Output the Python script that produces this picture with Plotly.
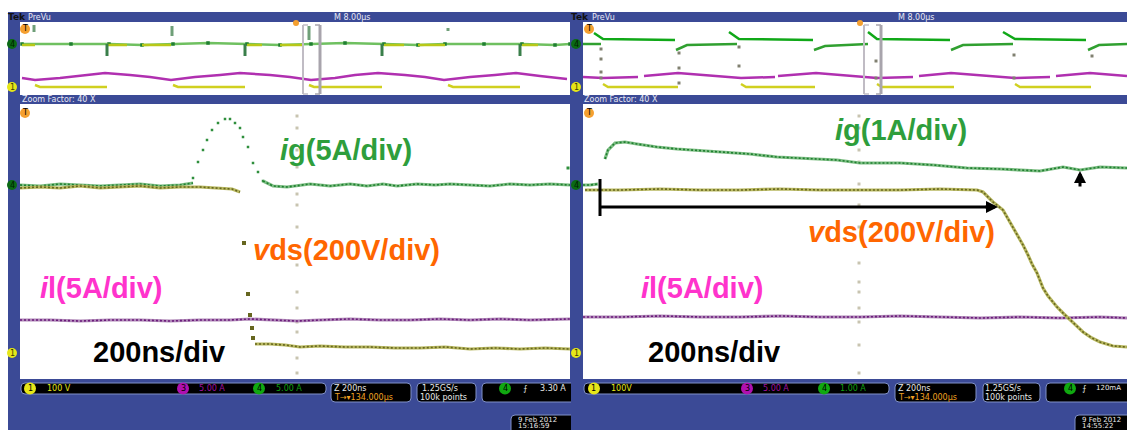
import plotly.graph_objects as go

W, H = 1127, 430
BLUE = "#3b4a96"

# ---------- left zoom window ----------
lz_ig_x = [20,40,60,80,100,120,140,160,180,193]
lz_ig_y = [185,186,184,185,186,185,184,186,185,183]
lz_ig_rise_x = [193,198,203,207,212,218,225,230,235,240,243,248,253,258,263]
lz_ig_rise_y = [178,162,150,140,130,123,119,119,123,128,137,147,163,172,181]
lz_ig_tail_x = [263,273,287,297,310,330,350,367,383,397,417,435,450,470,490,510,530,550,570]
lz_ig_tail_y = [181,186,187,186,184,186,184,186,184,186,184,185,184,185,186,184,185,184,185]
lz_vd_x = [20,40,60,80,100,120,140,160,180,200,220,232,240]
lz_vd_y = [188,187,188,186,188,187,186,188,187,187,188,189,192]
lz_vd_drop_x = [244,248,250,252,253]
lz_vd_drop_y = [243,294,315,328,338]
lz_vd_tail_x = [255,270,285,300,320,345,370,395,420,445,470,495,520,545,570]
lz_vd_tail_y = [344,344,345,347,346,347,347,348,348,347,349,348,349,348,349]
lz_il_x = [20,50,80,110,140,170,200,230,250,270,297,320,350,380,410,440,470,500,530,570]
lz_il_y = [320,320,321,320,320,321,320,320,319,320,321,320,319,320,320,319,320,319,320,319]
lz_stray_x = [568]
lz_stray_y = [168]
lz_cursor_x = [297]*15
lz_cursor_y = [116,128,150,167,194,205,227,252,265,292,308,322,332,358,373]

# ---------- right zoom window ----------
rz_ig0_x = [583,590,598]
rz_ig0_y = [185,185,184]
rz_ig_x = [605,608,615,625,637,657,677,703,730,750,777,803,837,860,900,933,967,1000,1040,1063,1080,1100,1127]
rz_ig_y = [159,150,143,142,144,147,149,151,153,154,157,158,160,163,163,165,168,169,171,167,170,167,168]
rz_vd_x = [585,620,660,700,740,780,820,860,900,940,977,983,993,1003,1013,1023,1028,1032,1037,1043,1048,1057,1064,1070,1083,1092,1100,1113,1127]
rz_vd_y = [190,190,189,190,190,189,190,190,190,189,190,192,202,210,227,245,255,264,273,288,296,307,314,320,332,338,342,346,347]
rz_il_x = [583,620,660,700,740,780,820,860,900,940,980,1020,1060,1100,1127]
rz_il_y = [317,317,316,317,317,316,317,317,316,317,318,317,318,317,318]
rz_cursor_x = [859]*14
rz_cursor_y = [116,128,150,162,184,205,227,263,282,292,308,322,345,373]

# ---------- left overview ----------
lo_g_x = [22,71,109,142,173,208,247,280,311,345,384,418,445,484,522,555,570]
lo_g_y = [44,44,44,45,44,43,44,45,44,43,44,45,44,44,44,45,44]
lo_spike_x = [107,245,382,520]
lo_spike_top = [44,44,44,44]
lo_spike_bot = [56,56,56,56]
lo_top_x = [34,172,309,448]
lo_top_a = [25,26,26,28]
lo_top_b = [32,36,40,31]
lo_ylw_on_start = [22,107,142,247,280,384,418,522]
lo_ylw_on_end = [35,127,171,262,303,404,445,538]
lo_p_x = [22,35,60,80,105,130,150,171,195,220,240,270,290,311,335,355,378,405,425,444,470,495,516,540,567]
lo_p_y = [78,80,78,76,73,75,77,80,77,75,73,75,77,80,78,75,73,75,77,80,77,75,73,76,79]
lo_low_start = [35,173,309,448]
lo_low_end = [107,245,382,520]

# ---------- right overview ----------
ro_hi_x = [[594,603,675],[729,739,813],[868,877,950],[1003,1015,1086]]
ro_hi_y = [[33,39,40],[32,39,40],[32,39,40],[32,39,40]]
ro_lo_x = [[583,601],[676,687,737],[814,825,868],[951,963,1013],[1088,1099,1127]]
ro_lo_y = [[44,44],[50,45,44],[50,46,44],[50,45,44],[50,45,44]]
ro_p_x = [[583,603,638],[644,678,741,775],[778,816,877,913],[919,951,1015,1050],[1056,1090,1127]]
ro_p_y = [[77,78,77],[76,73,78,77],[76,73,78,77],[76,73,78,77],[76,73,76]]
ro_low_x = [[603,608,678],[741,746,815],[877,882,954],[1015,1020,1091]]
ro_low_y = [[84,87,87],[84,87,87],[84,87,87],[84,87,87]]
ro_dot_x = [601,601,601,601,679,679,679,739,739,876,876,1014,1014,1092]
ro_dot_y = [49,59,72,78,53,68,83,47,66,61,78,55,78,56]

# ---------- texts ----------
big_labels = [
    ("<i>i</i>g(5A/div)", 280, 150, "#2e9e3c"),
    ("<i>v</i>ds(200V/div)", 253, 250, "#ff6600"),
    ("<i>i</i>l(5A/div)", 40, 288, "#ff33cc"),
    ("200ns/div", 93, 352, "#000000"),
    ("<i>i</i>g(1A/div)", 835, 130, "#2e9e3c"),
    ("<i>v</i>ds(200V/div)", 808, 232, "#ff6600"),
    ("<i>i</i>l(5A/div)", 641, 288, "#ff33cc"),
    ("200ns/div", 648, 352, "#000000"),
]
tek_labels = [("Tek", 8, 17), ("Tek", 571, 17)]
small_labels = [
    ("PreVu", 28, 17, "#e8e8f4"), ("M 8.00µs", 334, 17, "#e8e8f4"),
    ("Zoom Factor: 40 X", 22, 100, "#e8e8f4"),
    ("PreVu", 592, 17, "#e8e8f4"), ("M 8.00µs", 898, 17, "#e8e8f4"),
    ("Zoom Factor: 40 X", 584, 100, "#e8e8f4"),
    ("100 V", 47, 388, "#e6e619"), ("5.00 A", 199, 388, "#a010a0"), ("5.00 A", 276, 388, "#10a010"),
    ("Z 200ns", 334, 388, "#e8e8e8"), ("T→▾134.000µs", 334, 397, "#f0a020"),
    ("1.25GS/s", 422, 388, "#e8e8e8"), ("100k points", 420, 397, "#e8e8e8"),
    ("⨍", 523, 388, "#e8e8e8"), ("3.30 A", 540, 388, "#e8e8e8"),
    ("100V", 611, 388, "#e6e619"), ("5.00 A", 763, 388, "#a010a0"), ("1.00 A", 840, 388, "#10a010"),
    ("Z 200ns", 898, 388, "#e8e8e8"), ("T→▾134.000µs", 898, 397, "#f0a020"),
    ("1.25GS/s", 985, 388, "#e8e8e8"), ("100k points", 985, 397, "#e8e8e8"),
    ("⨍", 1082, 388, "#e8e8e8"),
]
tiny_labels = [
    ("120mA", 1096, 388, "#e8e8e8"),
    ("9 Feb 2012", 518, 420, "#e8e8e8"), ("15:16:59", 518, 426, "#e8e8e8"),
    ("9 Feb 2012", 1082, 420, "#e8e8e8"), ("14:55:22", 1082, 426, "#e8e8e8"),
]

fig = go.Figure()
PX = lambda x: x / W
PY = lambda y: 1 - y / H


def axes(n, x0, x1, y0, y1):
    common = dict(showgrid=False, zeroline=False, showticklabels=False, ticks="", showline=False, fixedrange=True)
    fig.layout["xaxis" + n] = dict(domain=[PX(x0), PX(x1)], range=[x0, x1], anchor="y" + n, **common)
    fig.layout["yaxis" + n] = dict(domain=[PY(y1), PY(y0)], range=[y1, y0], anchor="x" + n, **common)


axes("", 20, 570, 104, 379)
axes("2", 583, 1127, 104, 379)
axes("3", 20, 570, 22, 95)
axes("4", 583, 1127, 22, 95)


def trace(n, x, y, halo, core, hw=3.2, cw=1.6, dash="2px,2px"):
    ref = dict(xaxis="x" + n, yaxis="y" + n, hoverinfo="skip", showlegend=False, mode="lines")
    fig.add_trace(go.Scatter(x=x, y=y, line=dict(color=halo, width=hw), **ref))
    fig.add_trace(go.Scatter(x=x, y=y, line=dict(color=core, width=cw, dash=dash), **ref))


def dots(n, x, y, color, size=3):
    fig.add_trace(go.Scatter(x=x, y=y, xaxis="x" + n, yaxis="y" + n, mode="markers", hoverinfo="skip",
                             showlegend=False, marker=dict(symbol="square", color=color, size=size, line=dict(width=0))))


GH, GC = "#7fbf85", "#1f7f30"
OH, OC = "#b8b860", "#66661f"
PH, PC = "#b088b8", "#6a1a7a"

# cursor dots first
dots("", lz_cursor_x, lz_cursor_y, "#c8c4b0", 3)
dots("2", rz_cursor_x, rz_cursor_y, "#c8c4b0", 3)

# left zoom
trace("", lz_il_x, lz_il_y, PH, PC)
trace("", lz_ig_x, lz_ig_y, GH, GC)
dots("", lz_ig_rise_x, lz_ig_rise_y, "#2f8f3c", 2.5)
trace("", lz_ig_tail_x, lz_ig_tail_y, GH, GC)
trace("", lz_vd_x, lz_vd_y, OH, OC)
dots("", lz_vd_drop_x, lz_vd_drop_y, "#66661f", 4)
trace("", lz_vd_tail_x, lz_vd_tail_y, OH, OC)
dots("", lz_stray_x, lz_stray_y, "#2f8f3c", 3)

# right zoom
trace("2", rz_il_x, rz_il_y, PH, PC)
trace("2", rz_ig0_x, rz_ig0_y, GH, GC)
trace("2", rz_ig_x, rz_ig_y, GH, GC)
trace("2", rz_vd_x, rz_vd_y, OH, OC)

# left overview
fig.add_trace(go.Scatter(x=lo_g_x, y=lo_g_y, xaxis="x3", yaxis="y3", mode="lines+markers", hoverinfo="skip",
                         showlegend=False, line=dict(color="#6fc060", width=2.5),
                         marker=dict(symbol="square", size=3.5, color="#1f7f30")))
for s, e in zip(lo_ylw_on_start, lo_ylw_on_end):
    fig.add_trace(go.Scatter(x=[s, e], y=[45, 45], xaxis="x3", yaxis="y3", mode="lines", hoverinfo="skip",
                             showlegend=False, line=dict(color="#b8c818", width=2.5)))
for x, a, b in zip(lo_spike_x, lo_spike_top, lo_spike_bot):
    fig.add_trace(go.Scatter(x=[x, x], y=[a, b], xaxis="x3", yaxis="y3", mode="lines", hoverinfo="skip",
                             showlegend=False, line=dict(color="#3a7f4a", width=3)))
for x, a, b in zip(lo_top_x, lo_top_a, lo_top_b):
    fig.add_trace(go.Scatter(x=[x, x], y=[a, b], xaxis="x3", yaxis="y3", mode="lines", hoverinfo="skip",
                             showlegend=False, line=dict(color="#6f9f78", width=3)))
fig.add_trace(go.Scatter(x=lo_p_x, y=lo_p_y, xaxis="x3", yaxis="y3", mode="lines", hoverinfo="skip",
                         showlegend=False, line=dict(color="#b030b0", width=2.5)))
for s, e in zip(lo_low_start, lo_low_end):
    fig.add_trace(go.Scatter(x=[s, s + 5, e], y=[85, 87, 87], xaxis="x3", yaxis="y3", mode="lines", hoverinfo="skip",
                             showlegend=False, line=dict(color="#d0d020", width=2.5)))

# right overview
for x, y in zip(ro_lo_x, ro_lo_y):
    fig.add_trace(go.Scatter(x=x, y=y, xaxis="x4", yaxis="y4", mode="lines", hoverinfo="skip",
                             showlegend=False, line=dict(color="#30a030", width=2.5)))
for x, y in zip(ro_hi_x, ro_hi_y):
    fig.add_trace(go.Scatter(x=x, y=y, xaxis="x4", yaxis="y4", mode="lines", hoverinfo="skip",
                             showlegend=False, line=dict(color="#10a818", width=2.5)))
for x, y in zip(ro_p_x, ro_p_y):
    fig.add_trace(go.Scatter(x=x, y=y, xaxis="x4", yaxis="y4", mode="lines", hoverinfo="skip",
                             showlegend=False, line=dict(color="#b030b0", width=2.5)))
for x, y in zip(ro_low_x, ro_low_y):
    fig.add_trace(go.Scatter(x=x, y=y, xaxis="x4", yaxis="y4", mode="lines", hoverinfo="skip",
                             showlegend=False, line=dict(color="#d0d020", width=2.5)))
dots("4", ro_dot_x, ro_dot_y, "#808070", 3)

shapes, anns = [], []


def rect(x0, y0, x1, y1, fill, line=None):
    shapes.append(dict(type="rect", xref="paper", yref="paper", x0=PX(x0), x1=PX(x1), y0=PY(y0), y1=PY(y1),
                       fillcolor=fill, line=dict(color=line or fill, width=1 if line else 0), layer="below"))


def round_box(x0, y0, x1, y1, fill="#000000", r=4):
    a, b, c, d = PX(x0), PX(x1), PY(y0), PY(y1)
    rx, ry = r / W, r / H
    path = (f"M {a+rx} {c} L {b-rx} {c} Q {b} {c} {b} {c-ry} L {b} {d+ry} Q {b} {d} {b-rx} {d} "
            f"L {a+rx} {d} Q {a} {d} {a} {d+ry} L {a} {c-ry} Q {a} {c} {a+rx} {c} Z")
    shapes.append(dict(type="path", xref="paper", yref="paper", path=path, fillcolor=fill,
                       line=dict(color="#8090c8", width=1), layer="above"))


def badge(cx, cy, r, color, text="", tc="#000000"):
    shapes.append(dict(type="circle", xref="paper", yref="paper", x0=PX(cx - r), x1=PX(cx + r),
                       y0=PY(cy + r), y1=PY(cy - r), fillcolor=color, line=dict(width=0), layer="above"))
    if text:
        anns.append(dict(x=PX(cx), y=PY(cy), xref="paper", yref="paper", text=text, showarrow=False,
                         xanchor="center", yanchor="middle", font=dict(size=8, color=tc, family="DejaVu Sans")))


def seg(x0, y0, x1, y1, color, width):
    shapes.append(dict(type="line", xref="paper", yref="paper", x0=PX(x0), x1=PX(x1), y0=PY(y0), y1=PY(y1),
                       line=dict(color=color, width=width), layer="above"))


# blue chrome
rect(8, 12, 570, 22, BLUE)
rect(8, 12, 20, 430, BLUE)
rect(8, 95, 570, 104, BLUE)
rect(8, 379, 570, 430, BLUE)
rect(570, 12, 1127, 22, BLUE)
rect(570, 12, 583, 430, BLUE)
rect(570, 95, 1127, 104, BLUE)
rect(570, 379, 1127, 430, BLUE)

# selection brackets
for a, b in [(303, 320), (864, 881)]:
    seg(a, 25, a, 94, "#c0bcc4", 2)
    seg(b, 25, b, 94, "#a8a4ac", 3)
    for y in (25, 94):
        seg(a, y, a + 5, y, "#c0bcc4", 1.5)
        seg(b - 5, y, b, y, "#a8a4ac", 1.5)

# readouts
for x0, x1, y1 in [(21, 326, 394), (331, 411, 402), (417, 476, 402), (482, 575, 402), (511, 575, 436),
                   (584, 889, 394), (895, 976, 402), (983, 1040, 402), (1046, 1135, 402), (1075, 1135, 436)]:
    round_box(x0, 383 if y1 < 420 else 415, x1, y1)
# the strip of the right-hand scope covers what runs past the left scope's edge
shapes.append(dict(type="rect", xref="paper", yref="paper", x0=PX(571), x1=PX(583), y0=PY(379), y1=PY(430),
                   fillcolor=BLUE, line=dict(width=0), layer="above"))

# badges
for cx in (25, 589):
    badge(cx, 29, 5, "#f5a030", "T")
    badge(cx, 113, 5, "#f5a030", "T")
badge(296, 23, 3, "#f5a030")
badge(860, 23, 3, "#f5a030")
for cx, cy in [(12, 44), (12, 185), (576, 44), (576, 185)]:
    badge(cx, cy, 5, "#0a6a14", "4", "#002000")
for cx, cy in [(12, 87), (12, 353), (576, 87), (576, 353)]:
    badge(cx, cy, 5, "#e6e619", "1", "#404000")
for cx, col, t in [(30, "#e6e619", "1"), (183, "#b010b0", "3"), (259, "#10a810", "4"), (505, "#10a810", "4"),
                   (594, "#e6e619", "1"), (747, "#b010b0", "3"), (824, "#10a810", "4"), (1070, "#10a810", "4")]:
    badge(cx, 388.5, 6, col, t)

# black annotation marks
seg(600, 179, 600, 216, "#000000", 3)
seg(600, 207, 990, 207, "#000000", 3)
anns.append(dict(x=PX(998), y=PY(207), ax=-14, ay=0, xref="paper", yref="paper",
                 text="", showarrow=True, arrowhead=2, arrowsize=0.8, arrowwidth=3, arrowcolor="#000000"))
anns.append(dict(x=PX(1080), y=PY(171), ax=0, ay=17, xref="paper", yref="paper",
                 text="", showarrow=True, arrowhead=2, arrowsize=0.8, arrowwidth=3, arrowcolor="#000000"))

for t, x, y, c in big_labels:
    anns.append(dict(x=PX(x), y=PY(y), xref="paper", yref="paper", text=t, showarrow=False, xanchor="left",
                     yanchor="middle", xshift=-2, font=dict(family="Liberation Sans", size=29, color=c, weight="bold")))
for t, x, y in tek_labels:
    anns.append(dict(x=PX(x), y=PY(y), xref="paper", yref="paper", text=t, showarrow=False, xanchor="left",
                     yanchor="middle", xshift=-2, font=dict(family="DejaVu Sans", size=9, color="#111111", weight="bold")))
for t, x, y, c in small_labels:
    anns.append(dict(x=PX(x), y=PY(y), xref="paper", yref="paper", text=t, showarrow=False, xanchor="left",
                     yanchor="middle", xshift=-2, font=dict(family="DejaVu Sans", size=8, color=c)))
for t, x, y, c in tiny_labels:
    anns.append(dict(x=PX(x), y=PY(y), xref="paper", yref="paper", text=t, showarrow=False, xanchor="left",
                     yanchor="middle", xshift=-2, font=dict(family="DejaVu Sans", size=7, color=c)))

fig.update_layout(width=W, height=H, margin=dict(l=0, r=0, t=0, b=0), paper_bgcolor="white", plot_bgcolor="rgba(0,0,0,0)",
                  showlegend=False, shapes=shapes, annotations=anns)
fig.write_html("out.html", config=dict(displayModeBar=False),
               post_script="document.body.style.margin='0';document.body.style.overflow='hidden';")
